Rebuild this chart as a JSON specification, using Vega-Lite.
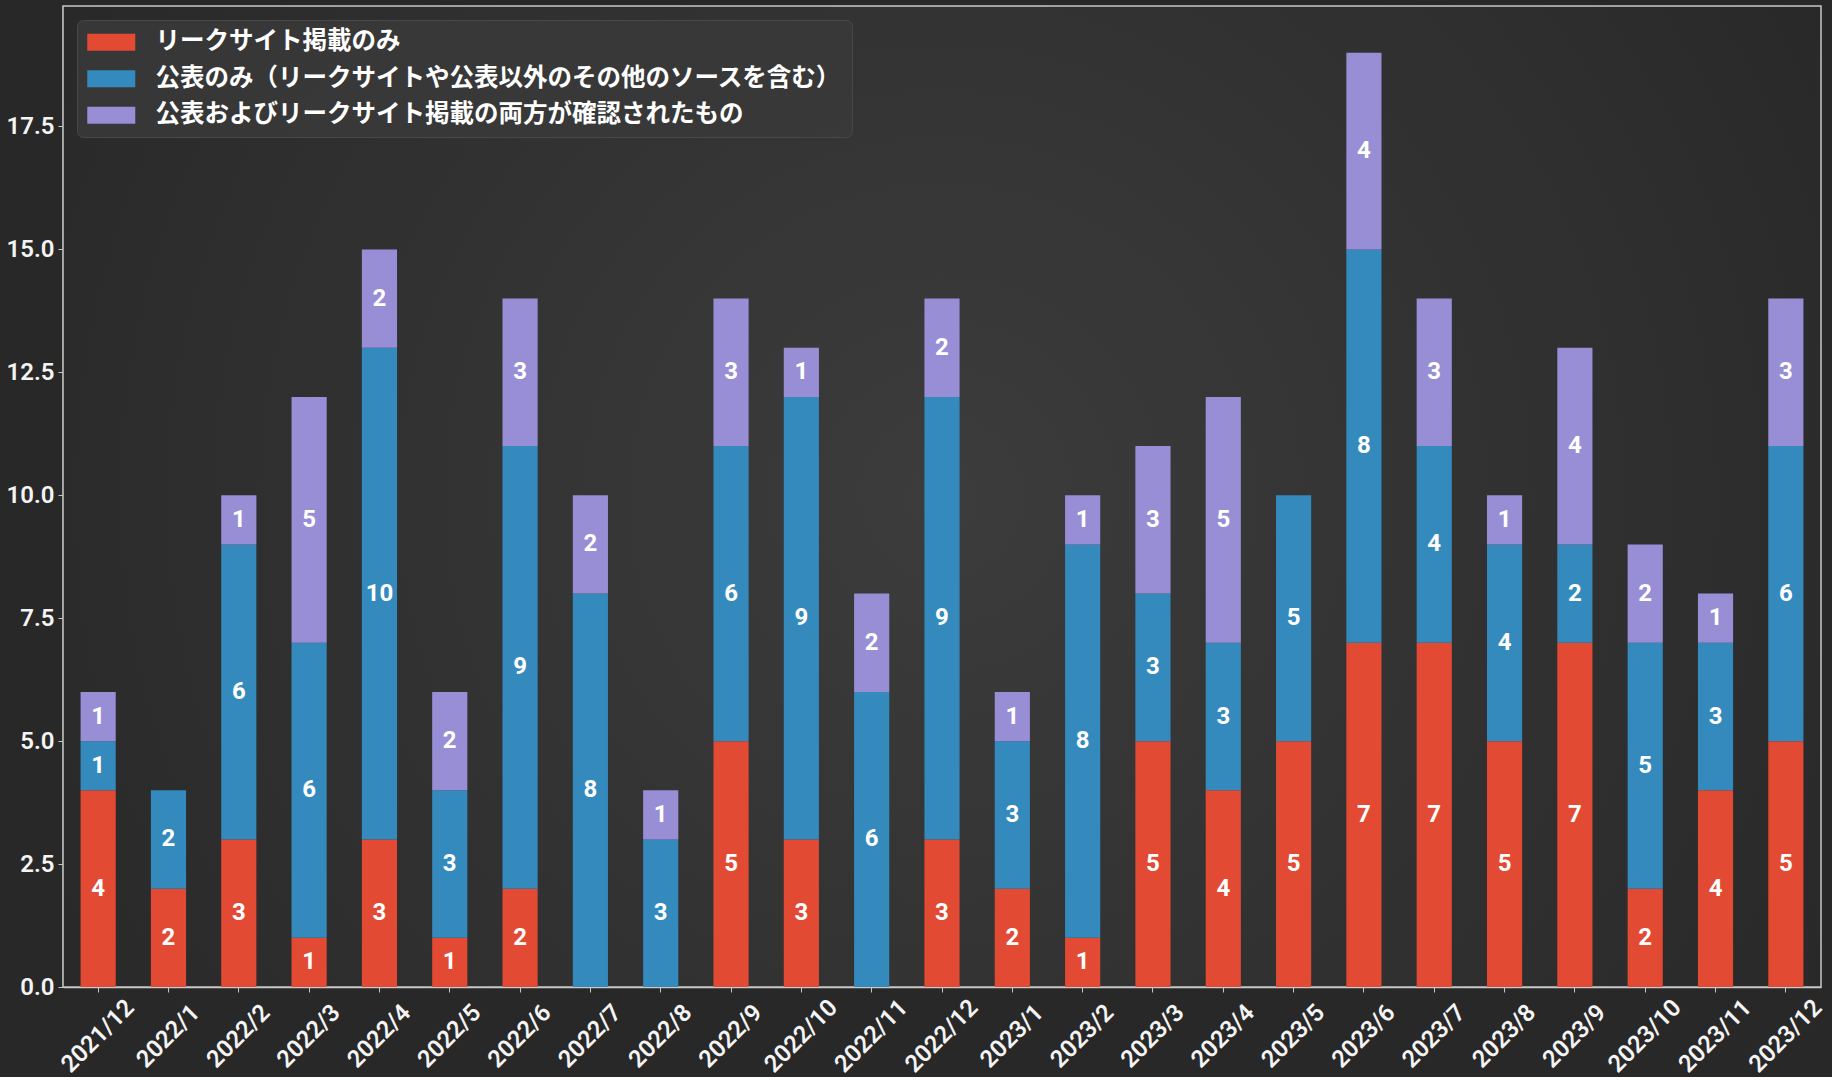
{
  "$schema": "https://vega.github.io/schema/vega-lite/v6.json",
  "width": 1758,
  "height": 981,
  "padding": {"left": 6, "top": 5, "right": 5, "bottom": 0},
  "background": "#282828",
  "config": {
    "view": {"stroke": null},
    "axis": {
      "zindex": 1,
      "grid": false,
      "domainColor": "#c8c8c8",
      "domainWidth": 1.5,
      "tickColor": "#c8c8c8",
      "tickWidth": 1,
      "tickSize": 5,
      "labelColor": "#f4f4f4",
      "labelFont": "Roboto",
      "labelFontWeight": 600,
      "labelFontSize": 24,
      "title": null
    },
    "axisX": {
      "labelAngle": -45,
      "labelAlign": "center",
      "labelBaseline": "middle",
      "labelPadding": 44,
      "labelOverlap": false
    },
    "axisY": {
      "labelPadding": 4
    }
  },
  "data": {
    "values": [
      {"month": "2021/12", "series": "リークサイト掲載のみ", "k": 1, "value": 4},
      {"month": "2021/12", "series": "公表のみ（リークサイトや公表以外のその他のソースを含む）", "k": 2, "value": 1},
      {"month": "2021/12", "series": "公表およびリークサイト掲載の両方が確認されたもの", "k": 3, "value": 1},
      {"month": "2022/1", "series": "リークサイト掲載のみ", "k": 1, "value": 2},
      {"month": "2022/1", "series": "公表のみ（リークサイトや公表以外のその他のソースを含む）", "k": 2, "value": 2},
      {"month": "2022/2", "series": "リークサイト掲載のみ", "k": 1, "value": 3},
      {"month": "2022/2", "series": "公表のみ（リークサイトや公表以外のその他のソースを含む）", "k": 2, "value": 6},
      {"month": "2022/2", "series": "公表およびリークサイト掲載の両方が確認されたもの", "k": 3, "value": 1},
      {"month": "2022/3", "series": "リークサイト掲載のみ", "k": 1, "value": 1},
      {"month": "2022/3", "series": "公表のみ（リークサイトや公表以外のその他のソースを含む）", "k": 2, "value": 6},
      {"month": "2022/3", "series": "公表およびリークサイト掲載の両方が確認されたもの", "k": 3, "value": 5},
      {"month": "2022/4", "series": "リークサイト掲載のみ", "k": 1, "value": 3},
      {"month": "2022/4", "series": "公表のみ（リークサイトや公表以外のその他のソースを含む）", "k": 2, "value": 10},
      {"month": "2022/4", "series": "公表およびリークサイト掲載の両方が確認されたもの", "k": 3, "value": 2},
      {"month": "2022/5", "series": "リークサイト掲載のみ", "k": 1, "value": 1},
      {"month": "2022/5", "series": "公表のみ（リークサイトや公表以外のその他のソースを含む）", "k": 2, "value": 3},
      {"month": "2022/5", "series": "公表およびリークサイト掲載の両方が確認されたもの", "k": 3, "value": 2},
      {"month": "2022/6", "series": "リークサイト掲載のみ", "k": 1, "value": 2},
      {"month": "2022/6", "series": "公表のみ（リークサイトや公表以外のその他のソースを含む）", "k": 2, "value": 9},
      {"month": "2022/6", "series": "公表およびリークサイト掲載の両方が確認されたもの", "k": 3, "value": 3},
      {"month": "2022/7", "series": "公表のみ（リークサイトや公表以外のその他のソースを含む）", "k": 2, "value": 8},
      {"month": "2022/7", "series": "公表およびリークサイト掲載の両方が確認されたもの", "k": 3, "value": 2},
      {"month": "2022/8", "series": "公表のみ（リークサイトや公表以外のその他のソースを含む）", "k": 2, "value": 3},
      {"month": "2022/8", "series": "公表およびリークサイト掲載の両方が確認されたもの", "k": 3, "value": 1},
      {"month": "2022/9", "series": "リークサイト掲載のみ", "k": 1, "value": 5},
      {"month": "2022/9", "series": "公表のみ（リークサイトや公表以外のその他のソースを含む）", "k": 2, "value": 6},
      {"month": "2022/9", "series": "公表およびリークサイト掲載の両方が確認されたもの", "k": 3, "value": 3},
      {"month": "2022/10", "series": "リークサイト掲載のみ", "k": 1, "value": 3},
      {"month": "2022/10", "series": "公表のみ（リークサイトや公表以外のその他のソースを含む）", "k": 2, "value": 9},
      {"month": "2022/10", "series": "公表およびリークサイト掲載の両方が確認されたもの", "k": 3, "value": 1},
      {"month": "2022/11", "series": "公表のみ（リークサイトや公表以外のその他のソースを含む）", "k": 2, "value": 6},
      {"month": "2022/11", "series": "公表およびリークサイト掲載の両方が確認されたもの", "k": 3, "value": 2},
      {"month": "2022/12", "series": "リークサイト掲載のみ", "k": 1, "value": 3},
      {"month": "2022/12", "series": "公表のみ（リークサイトや公表以外のその他のソースを含む）", "k": 2, "value": 9},
      {"month": "2022/12", "series": "公表およびリークサイト掲載の両方が確認されたもの", "k": 3, "value": 2},
      {"month": "2023/1", "series": "リークサイト掲載のみ", "k": 1, "value": 2},
      {"month": "2023/1", "series": "公表のみ（リークサイトや公表以外のその他のソースを含む）", "k": 2, "value": 3},
      {"month": "2023/1", "series": "公表およびリークサイト掲載の両方が確認されたもの", "k": 3, "value": 1},
      {"month": "2023/2", "series": "リークサイト掲載のみ", "k": 1, "value": 1},
      {"month": "2023/2", "series": "公表のみ（リークサイトや公表以外のその他のソースを含む）", "k": 2, "value": 8},
      {"month": "2023/2", "series": "公表およびリークサイト掲載の両方が確認されたもの", "k": 3, "value": 1},
      {"month": "2023/3", "series": "リークサイト掲載のみ", "k": 1, "value": 5},
      {"month": "2023/3", "series": "公表のみ（リークサイトや公表以外のその他のソースを含む）", "k": 2, "value": 3},
      {"month": "2023/3", "series": "公表およびリークサイト掲載の両方が確認されたもの", "k": 3, "value": 3},
      {"month": "2023/4", "series": "リークサイト掲載のみ", "k": 1, "value": 4},
      {"month": "2023/4", "series": "公表のみ（リークサイトや公表以外のその他のソースを含む）", "k": 2, "value": 3},
      {"month": "2023/4", "series": "公表およびリークサイト掲載の両方が確認されたもの", "k": 3, "value": 5},
      {"month": "2023/5", "series": "リークサイト掲載のみ", "k": 1, "value": 5},
      {"month": "2023/5", "series": "公表のみ（リークサイトや公表以外のその他のソースを含む）", "k": 2, "value": 5},
      {"month": "2023/6", "series": "リークサイト掲載のみ", "k": 1, "value": 7},
      {"month": "2023/6", "series": "公表のみ（リークサイトや公表以外のその他のソースを含む）", "k": 2, "value": 8},
      {"month": "2023/6", "series": "公表およびリークサイト掲載の両方が確認されたもの", "k": 3, "value": 4},
      {"month": "2023/7", "series": "リークサイト掲載のみ", "k": 1, "value": 7},
      {"month": "2023/7", "series": "公表のみ（リークサイトや公表以外のその他のソースを含む）", "k": 2, "value": 4},
      {"month": "2023/7", "series": "公表およびリークサイト掲載の両方が確認されたもの", "k": 3, "value": 3},
      {"month": "2023/8", "series": "リークサイト掲載のみ", "k": 1, "value": 5},
      {"month": "2023/8", "series": "公表のみ（リークサイトや公表以外のその他のソースを含む）", "k": 2, "value": 4},
      {"month": "2023/8", "series": "公表およびリークサイト掲載の両方が確認されたもの", "k": 3, "value": 1},
      {"month": "2023/9", "series": "リークサイト掲載のみ", "k": 1, "value": 7},
      {"month": "2023/9", "series": "公表のみ（リークサイトや公表以外のその他のソースを含む）", "k": 2, "value": 2},
      {"month": "2023/9", "series": "公表およびリークサイト掲載の両方が確認されたもの", "k": 3, "value": 4},
      {"month": "2023/10", "series": "リークサイト掲載のみ", "k": 1, "value": 2},
      {"month": "2023/10", "series": "公表のみ（リークサイトや公表以外のその他のソースを含む）", "k": 2, "value": 5},
      {"month": "2023/10", "series": "公表およびリークサイト掲載の両方が確認されたもの", "k": 3, "value": 2},
      {"month": "2023/11", "series": "リークサイト掲載のみ", "k": 1, "value": 4},
      {"month": "2023/11", "series": "公表のみ（リークサイトや公表以外のその他のソースを含む）", "k": 2, "value": 3},
      {"month": "2023/11", "series": "公表およびリークサイト掲載の両方が確認されたもの", "k": 3, "value": 1},
      {"month": "2023/12", "series": "リークサイト掲載のみ", "k": 1, "value": 5},
      {"month": "2023/12", "series": "公表のみ（リークサイトや公表以外のその他のソースを含む）", "k": 2, "value": 6},
      {"month": "2023/12", "series": "公表およびリークサイト掲載の両方が確認されたもの", "k": 3, "value": 3}
    ]
  },
  "layer": [
    {
      "data": {"values": [{"bg": 1}]},
      "mark": {
        "type": "rect",
        "stroke": "#c8c8c8",
        "strokeWidth": 1.5,
        "color": {
          "gradient": "radial",
          "x1": 0.5, "y1": 0.5, "r1": 0,
          "x2": 0.5, "y2": 0.5, "r2": 0.72,
          "stops": [
            {"offset": 0, "color": "#3c3c3c"},
            {"offset": 1, "color": "#242424"}
          ]
        }
      },
      "encoding": {}
    },
    {
      "mark": {"type": "bar"},
      "encoding": {
        "x": {
          "field": "month", "type": "nominal",
          "sort": ["2021/12","2022/1","2022/2","2022/3","2022/4","2022/5","2022/6","2022/7","2022/8","2022/9","2022/10","2022/11","2022/12","2023/1","2023/2","2023/3","2023/4","2023/5","2023/6","2023/7","2023/8","2023/9","2023/10","2023/11","2023/12"],
          "scale": {"paddingInner": 0.5, "paddingOuter": 0.25},
          "axis": {"title": null}
        },
        "y": {
          "field": "value", "type": "quantitative", "stack": "zero",
          "scale": {"domain": [0, 19.95], "nice": false},
          "axis": {"title": null, "values": [0, 2.5, 5, 7.5, 10, 12.5, 15, 17.5], "format": ".1f"}
        },
        "color": {
          "field": "series", "type": "nominal",
          "scale": {
            "domain": ["リークサイト掲載のみ", "公表のみ（リークサイトや公表以外のその他のソースを含む）", "公表およびリークサイト掲載の両方が確認されたもの"],
            "range": ["#E24A33", "#348ABD", "#988ED5"]
          },
          "legend": {
            "title": null,
            "orient": "none",
            "legendX": 14,
            "legendY": 14,
            "symbolType": "M-1,-0.7H3V0.7H-1Z",
            "symbolSize": 576,
            "symbolStrokeWidth": 0,
            "labelOffset": 44,
            "labelFont": "Noto Sans CJK JP",
            "labelFontSize": 24.5,
            "labelFontWeight": "bold",
            "labelColor": "#ffffff",
            "labelLimit": 1000,
            "rowPadding": 11.5,
            "padding": 10,
            "fillColor": "rgba(58,58,58,0.85)",
            "strokeColor": "#484848",
            "cornerRadius": 6
          }
        },
        "order": {"field": "k", "type": "quantitative", "sort": "ascending"}
      }
    },
    {
      "transform": [
        {"stack": "value", "groupby": ["month"], "sort": [{"field": "k", "order": "ascending"}], "as": ["v0", "v1"]},
        {"fold": ["v0", "v1"], "as": ["edge", "pos"]}
      ],
      "mark": {"type": "text", "color": "#ffffff", "font": "Roboto", "fontSize": 24, "fontWeight": "bold", "align": "center", "baseline": "middle"},
      "encoding": {
        "x": {
          "field": "month", "type": "nominal",
          "sort": ["2021/12","2022/1","2022/2","2022/3","2022/4","2022/5","2022/6","2022/7","2022/8","2022/9","2022/10","2022/11","2022/12","2023/1","2023/2","2023/3","2023/4","2023/5","2023/6","2023/7","2023/8","2023/9","2023/10","2023/11","2023/12"],
          "scale": {"paddingInner": 0.5, "paddingOuter": 0.25},
          "axis": {"title": null}
        },
        "y": {
          "aggregate": "mean", "field": "pos", "type": "quantitative", "stack": null,
          "scale": {"domain": [0, 19.95], "nice": false},
          "axis": {"title": null, "values": [0, 2.5, 5, 7.5, 10, 12.5, 15, 17.5], "format": ".1f"}
        },
        "text": {"field": "value", "type": "quantitative"},
        "detail": {"field": "k", "type": "nominal"}
      }
    }
  ]
}
